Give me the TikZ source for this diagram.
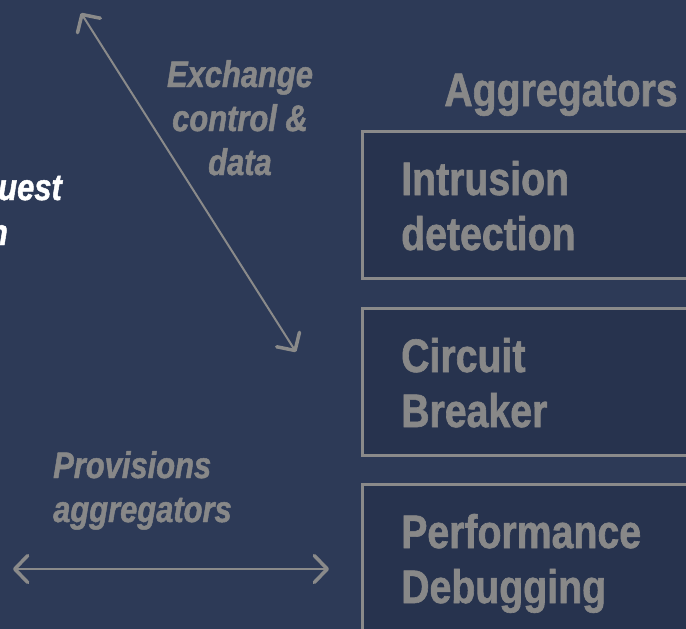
\documentclass[tikz,border=0pt]{standalone}
\usepackage{fontspec}
\setmainfont{Liberation Sans}[FakeStretch=0.835,
    BoldFeatures={FakeBold=1.3}, BoldItalicFeatures={FakeBold=1.3}]
\usetikzlibrary{arrows.meta}

\definecolor{bgblue}{RGB}{45,58,87}
\definecolor{boxfill}{RGB}{39,51,78}
\definecolor{boxline}{RGB}{138,138,138}
\definecolor{labelgray}{RGB}{136,136,136}

\tikzset{
    aggbox/.style={draw=boxline, fill=boxfill, line width=2.5pt, anchor=north west,
        inner sep=0pt, minimum width=345pt, minimum height=147pt},
    aggtext/.style={text=labelgray, font=\bfseries\fontsize{47}{55}\selectfont,
        align=left, anchor=base west, inner sep=0pt},
    notetext/.style={text=labelgray, font=\bfseries\itshape\fontsize{37}{44}\selectfont,
        inner sep=0pt},
    barb/.tip={Straight Barb[length=13pt, width=27pt, line width=3.5pt, round]},
    flow/.style={draw=boxline, line width=2pt, barb-barb}
}

\begin{document}
\begin{tikzpicture}[x=1pt, y=-1pt]
    % canvas
    \useasboundingbox (0,0) rectangle (686,629);
    \clip (0,0) rectangle (686,629);
    \fill[bgblue] (0,0) rectangle (686,629);

    % request text running in from the left
    \node[text=white, font=\bfseries\itshape\fontsize{37}{44}\selectfont,
          anchor=base east, inner sep=0pt] (req1) at (62,200) {uest};
    \node[text=white, font=\bfseries\itshape\fontsize{37}{44}\selectfont,
          anchor=base east, inner sep=0pt] (req2) at (8,245) {n};

    % aggregator column
    \node[text=labelgray, font=\bfseries\fontsize{47}{56}\selectfont,
          anchor=base, inner sep=0pt] (agghead) at (561,106) {Aggregators};

    \node[aggbox] (intrusion) at (361,130) {};
    \node[aggbox] (breaker) at (361,307) {};
    \node[aggbox] (perf) at (361,483) {};

    % base of a two-line node is its last line
    \node[aggtext] (intrusiontxt) at ([shift={(40,120)}]intrusion.north west) {Intrusion\\detection};
    \node[aggtext] (breakertxt) at ([shift={(40,120)}]breaker.north west) {Circuit\\Breaker};
    \node[aggtext] (perftxt) at ([shift={(40,120)}]perf.north west) {Performance\\Debugging};

    % exchange between the two sides
    \coordinate (exTop) at (81,13);
    \coordinate (exBot) at (296,352);
    \draw[flow] (exTop) -- (exBot);
    \node[notetext, align=center, anchor=base] (exlabel) at (240,175) {Exchange\\control \&\\data};

    % provisioning
    \coordinate (provL) at (13,569);
    \coordinate (provR) at (329,569);
    \draw[flow] (provL) -- (provR);
    \node[notetext, align=left, anchor=base west] (provlabel) at (53,522) {Provisions\\aggregators};
\end{tikzpicture}
\end{document}
